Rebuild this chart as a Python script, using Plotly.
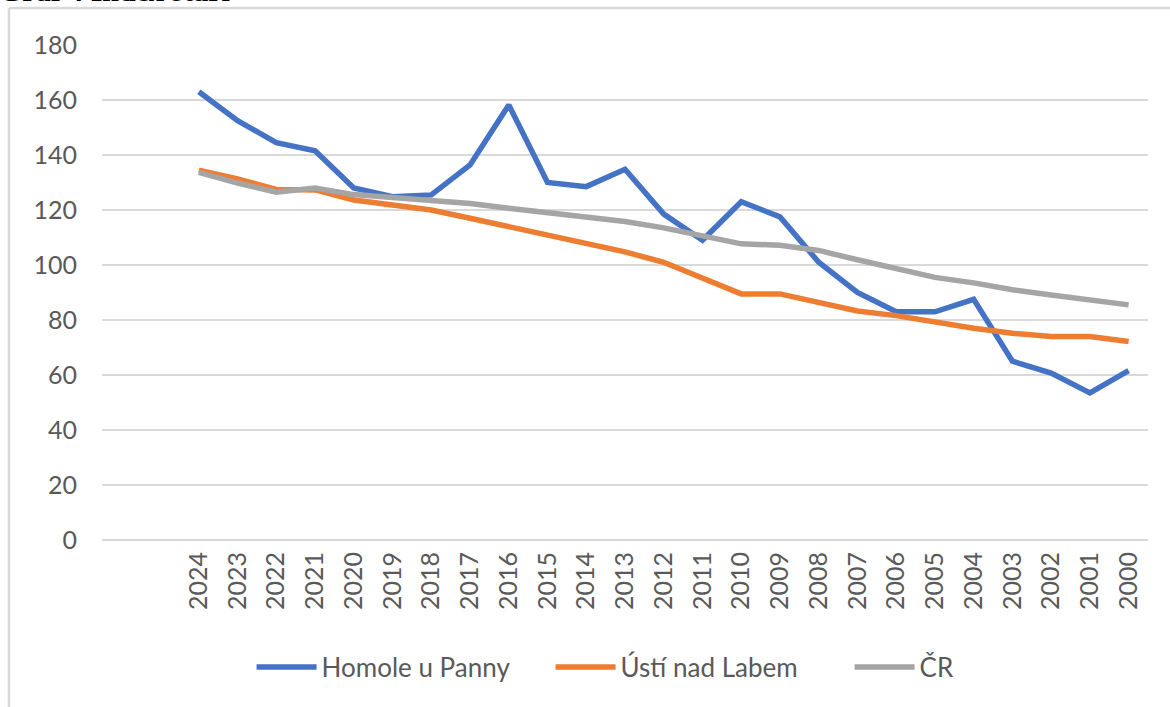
import plotly.graph_objects as go

# --- Data ---

years = [str(y) for y in range(2024, 1999, -1)]

homole = [163, 152.5, 144.5, 141.5, 128, 124.8, 125.5, 136.4, 158.2, 130,
          128.5, 134.8, 118.5, 109, 123, 117.5, 101, 90, 83, 83,
          87.5, 65, 60.7, 53.5, 61.6]

usti = [134.5, 131.3, 127.5, 127.3, 123.6, 122, 120, 117, 114, 110.7,
        107.5, 104.8, 101, 95.5, 89.5, 89.5, 86.3, 83.3, 81.6, 79.2,
        77, 75.2, 74, 74, 72.2]

cr = [133.7, 129.8, 126.5, 128, 125.6, 124.6, 123.6, 122.4, 120.6, 119,
      117.5, 115.8, 113.5, 110.8, 107.7, 107.2, 105.3, 101.9, 98.9, 95.5,
      93.5, 91, 89.1, 87.2, 85.5]

series = [
    ("Homole u Panny", homole, "#4472C4"),
    ("Ústí nad Labem", usti, "#ED7D31"),
    ("ČR", cr, "#A5A5A5"),
]

y_ticks = list(range(0, 181, 20))

# --- Figure ---

FONT = "Lato, 'Open Sans', sans-serif"
TEXT_COLOR = "#595959"
GRID_COLOR = "#D9D9D9"

fig = go.Figure()

for name, values, color in series:
    fig.add_trace(
        go.Scatter(
            x=years,
            y=values,
            name=name,
            mode="lines",
            line=dict(color=color, width=5.5),
            hoverinfo="skip",
        )
    )

fig.update_xaxes(
    type="category",
    range=[-2.5, len(years) - 0.5],
    tickangle=-90,
    tickfont=dict(family=FONT, size=25, color=TEXT_COLOR),
    showgrid=False,
    showline=False,
    ticks="",
    ticklabelstandoff=6,
    automargin=False,
)
fig.update_yaxes(
    range=[0, 180],
    tickvals=y_ticks,
    tickfont=dict(family=FONT, size=25, color=TEXT_COLOR),
    showgrid=True,
    gridcolor=GRID_COLOR,
    gridwidth=2,
    zeroline=True,
    zerolinecolor=GRID_COLOR,
    zerolinewidth=2,
    showline=False,
    ticks="",
    ticklabelstandoff=24,
    automargin=False,
)

# chart frame (only the top and left edges are visible in the crop)
fig.add_shape(type="line", xref="paper", yref="paper",
              x0=-0.089, x1=1.2, y0=1.0747, y1=1.0747,
              line=dict(color=GRID_COLOR, width=2.5))
fig.add_shape(type="line", xref="paper", yref="paper",
              x0=-0.089, x1=-0.089, y0=1.0747, y1=-0.5,
              line=dict(color=GRID_COLOR, width=2.5))

# heading above the chart, mostly cut off by the page edge
fig.add_annotation(
    text="<b>Graf 4 Index stáří</b>",
    xref="paper", yref="paper",
    x=-0.1, y=1.0725,
    xanchor="left", yanchor="bottom",
    showarrow=False,
    font=dict(family="Liberation Serif, serif", size=30, color="#000000"),
)

fig.update_layout(
    width=1170,
    height=707,
    margin=dict(l=102, r=22, t=45, b=167, autoexpand=False),
    paper_bgcolor="white",
    plot_bgcolor="white",
    showlegend=True,
    legend=dict(
        orientation="h",
        x=0.143, y=-0.257,
        xanchor="left", yanchor="middle",
        font=dict(family=FONT, size=26, color=TEXT_COLOR),
        itemwidth=60,
        entrywidth=224,
        bgcolor="rgba(0,0,0,0)",
    ),
)

# drop the default page margin so the figure sits at the window's corner
fig.write_html(
    "out.html",
    config={"displayModeBar": False},
    post_script="document.body.style.margin = '0';",
)
